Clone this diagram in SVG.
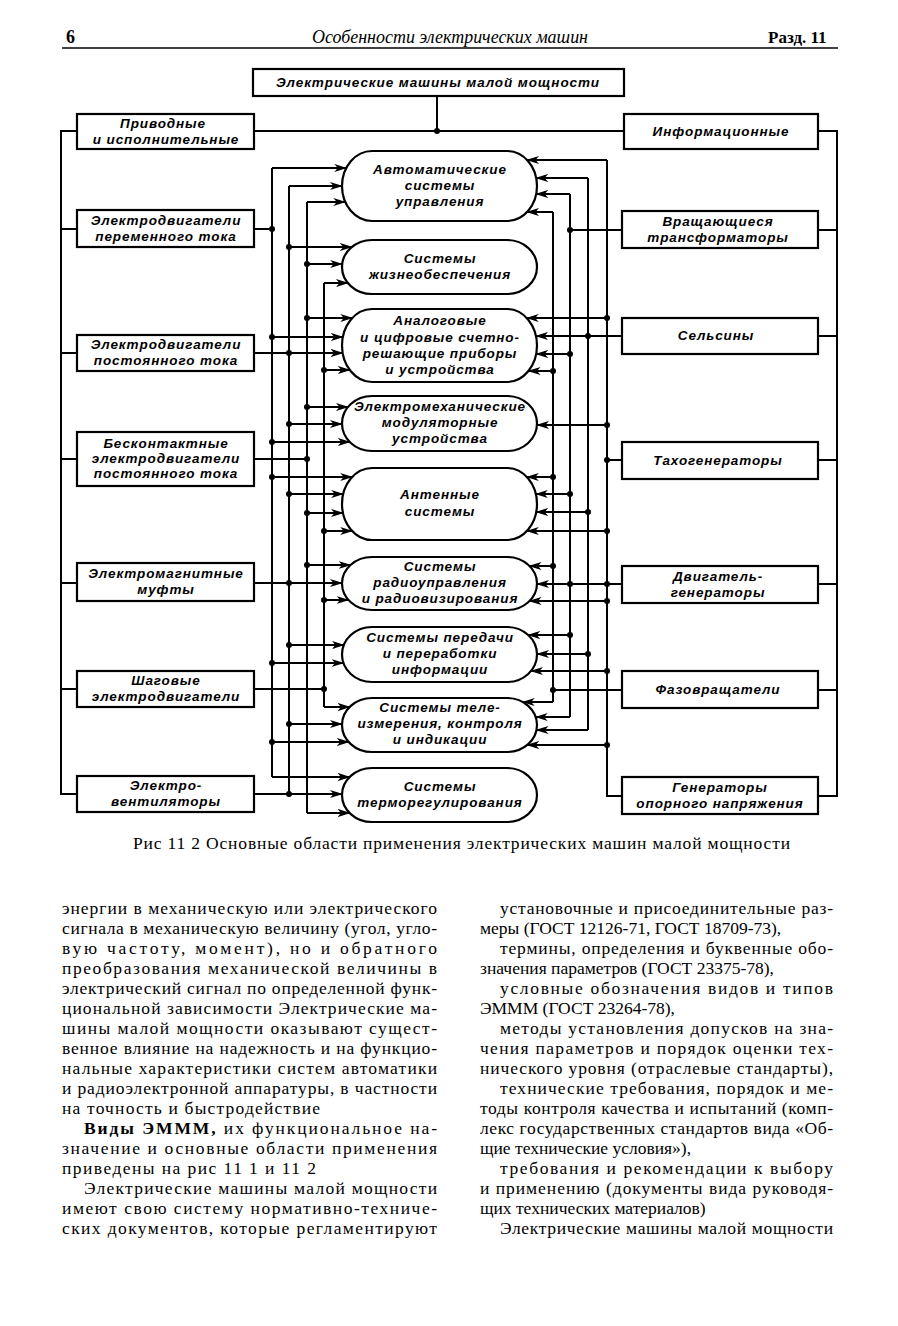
<svg xmlns="http://www.w3.org/2000/svg" width="898" height="1326" viewBox="0 0 898 1326">
<style>
.bx{fill:#fff;stroke:#000;stroke-width:2.2}
.ov{fill:#fff;stroke:#000;stroke-width:2.2}
.t{font-family:"Liberation Sans",Arial,sans-serif;font-style:italic;font-weight:bold;font-size:13.5px;letter-spacing:0.9px;text-anchor:middle;fill:#000}
.w{stroke:#000;stroke-width:2;fill:none}
.a{stroke:#000;stroke-width:2;marker-end:url(#ar)}
.body{font-family:"Liberation Serif","Times New Roman",serif;font-size:17.5px;fill:#000}
.hd{font-family:"Liberation Serif","Times New Roman",serif;fill:#000}
</style>
<defs>
<marker id="ar" markerWidth="13" markerHeight="9" refX="12" refY="4.5" orient="auto" markerUnits="userSpaceOnUse">
<path d="M0,0.5 L13,4.5 L0,8.5 L3.5,4.5 Z" fill="#000"/>
</marker>
</defs>
<rect width="898" height="1326" fill="#fff"/>

<!-- page header -->
<g id="header">
<text class="hd" x="66" y="43" font-size="18" font-weight="bold">6</text>
<text class="hd" x="312" y="43" font-size="18" font-style="italic" textLength="276" lengthAdjust="spacingAndGlyphs">Особенности электрических машин</text>
<text class="hd" x="768" y="43" font-size="17" font-weight="bold">Разд. 11</text>
<line x1="62" y1="48" x2="838" y2="48" stroke="#000" stroke-width="1.3"/>
</g>

<!-- connectors -->
<g id="connectors">
<path class="w" d="M437,96 V131 M254,131 H624"/>
<path class="w" d="M77,131 H61 V794 H77 M61,229 H77 M61,353 H77 M61,459 H77 M61,583 H77 M61,689 H77"/>
<path class="w" d="M818,131 H837 V796 H818 M837,230 H818 M837,336 H818 M837,460 H818 M837,584 H818 M837,690 H818"/>
<path class="w" d="M272,168 V777 M289,186 V794 M307,202 V813 M324,283 V707"/>
<path class="w" d="M254,229 H272 M254,459 H307 M254,689 H324"/>
<path class="w" d="M553,212 V702 M570,194 V717 M588,178 V730 M607,160 V796 H622"/>
<path class="w" d="M622,230 H570 M622,460 H607 M622,690 H553"/>
<!-- left arrows -->
<line class="a" x1="272" y1="168" x2="346.3" y2="168"/>
<line class="a" x1="289" y1="186" x2="342" y2="186"/>
<line class="a" x1="307" y1="202" x2="345.3" y2="202"/>
<line class="a" x1="289" y1="247" x2="351.8" y2="247"/>
<line class="a" x1="307" y1="264" x2="342.2" y2="264"/>
<line class="a" x1="324" y1="283" x2="347.9" y2="283"/>
<line class="a" x1="307" y1="318" x2="352.3" y2="318"/>
<line class="a" x1="272" y1="337" x2="342.8" y2="337"/>
<line class="a" x1="254" y1="353" x2="342.6" y2="353"/>
<line class="a" x1="324" y1="370" x2="349.8" y2="370"/>
<line class="a" x1="307" y1="407" x2="348" y2="407"/>
<line class="a" x1="289" y1="424" x2="342" y2="424"/>
<line class="a" x1="272" y1="442" x2="349.8" y2="442"/>
<line class="a" x1="272" y1="477" x2="352.2" y2="477"/>
<line class="a" x1="289" y1="494" x2="343.2" y2="494"/>
<line class="a" x1="307" y1="513" x2="343" y2="513"/>
<line class="a" x1="324" y1="531" x2="352.2" y2="531"/>
<line class="a" x1="307" y1="565" x2="350.5" y2="565"/>
<line class="a" x1="254" y1="583" x2="342" y2="583"/>
<line class="a" x1="324" y1="600" x2="348.5" y2="600"/>
<line class="a" x1="289" y1="645" x2="343.9" y2="645"/>
<line class="a" x1="272" y1="663" x2="343.5" y2="663"/>
<line class="a" x1="324" y1="707" x2="349.6" y2="707"/>
<line class="a" x1="289" y1="724" x2="342" y2="724"/>
<line class="a" x1="272" y1="742" x2="348.7" y2="742"/>
<line class="a" x1="272" y1="777" x2="349.6" y2="777"/>
<line class="a" x1="254" y1="794" x2="342" y2="794"/>
<line class="a" x1="307" y1="813" x2="349.6" y2="813"/>
<!-- right arrows -->
<line class="a" x1="607" y1="160" x2="527.1" y2="160"/>
<line class="a" x1="588" y1="178" x2="536.2" y2="178"/>
<line class="a" x1="570" y1="194" x2="536.2" y2="194"/>
<line class="a" x1="553" y1="212" x2="527.1" y2="212"/>
<line class="a" x1="607" y1="318" x2="526.7" y2="318"/>
<line class="a" x1="622" y1="336" x2="536" y2="336"/>
<line class="a" x1="570" y1="354" x2="536.2" y2="354"/>
<line class="a" x1="553" y1="371" x2="528.5" y2="371"/>
<line class="a" x1="607" y1="425" x2="537" y2="425"/>
<line class="a" x1="553" y1="477" x2="526.8" y2="477"/>
<line class="a" x1="570" y1="494" x2="535.8" y2="494"/>
<line class="a" x1="588" y1="512" x2="536.2" y2="512"/>
<line class="a" x1="607" y1="531" x2="526.8" y2="531"/>
<line class="a" x1="553" y1="566" x2="529.5" y2="566"/>
<line class="a" x1="622" y1="584" x2="537" y2="584"/>
<line class="a" x1="607" y1="601" x2="529.5" y2="601"/>
<line class="a" x1="570" y1="635" x2="528.2" y2="635"/>
<line class="a" x1="588" y1="654" x2="537" y2="654"/>
<line class="a" x1="607" y1="671" x2="531" y2="671"/>
<line class="a" x1="553" y1="702" x2="522.7" y2="702"/>
<line class="a" x1="570" y1="717" x2="535.7" y2="717"/>
<line class="a" x1="588" y1="730" x2="536.5" y2="730"/>
<line class="a" x1="607" y1="745" x2="527.2" y2="745"/>
<!-- junction dots -->
<g fill="#000">
<circle cx="437" cy="131" r="3"/>
<circle cx="272" cy="229" r="3"/><circle cx="289" cy="247" r="3"/><circle cx="307" cy="264" r="3"/>
<circle cx="307" cy="318" r="3"/><circle cx="272" cy="337" r="3"/><circle cx="289" cy="353" r="3"/><circle cx="324" cy="370" r="3"/>
<circle cx="307" cy="407" r="3"/><circle cx="289" cy="424" r="3"/><circle cx="272" cy="442" r="3"/><circle cx="307" cy="459" r="3"/>
<circle cx="272" cy="477" r="3"/><circle cx="289" cy="494" r="3"/><circle cx="307" cy="513" r="3"/><circle cx="324" cy="531" r="3"/>
<circle cx="307" cy="565" r="3"/><circle cx="289" cy="583" r="3"/><circle cx="324" cy="600" r="3"/>
<circle cx="289" cy="645" r="3"/><circle cx="272" cy="663" r="3"/><circle cx="324" cy="689" r="3"/>
<circle cx="289" cy="724" r="3"/><circle cx="272" cy="742" r="3"/><circle cx="289" cy="794" r="3"/>
<circle cx="570" cy="230" r="3"/><circle cx="607" cy="318" r="3"/><circle cx="588" cy="336" r="3"/><circle cx="570" cy="354" r="3"/><circle cx="553" cy="371" r="3"/>
<circle cx="607" cy="425" r="3"/><circle cx="607" cy="460" r="3"/>
<circle cx="553" cy="477" r="3"/><circle cx="570" cy="494" r="3"/><circle cx="588" cy="512" r="3"/><circle cx="607" cy="531" r="3"/>
<circle cx="553" cy="566" r="3"/><circle cx="607" cy="584" r="3"/><circle cx="570" cy="584" r="3"/><circle cx="607" cy="601" r="3"/>
<circle cx="570" cy="635" r="3"/><circle cx="588" cy="654" r="3"/><circle cx="607" cy="671" r="3"/><circle cx="553" cy="690" r="3"/>
<circle cx="607" cy="745" r="3"/>
</g>
</g>

<!-- top node -->
<g id="n-top"><rect class="bx" x="253" y="69" width="371" height="27"/><text class="t" x="438" y="87">Электрические машины малой мощности</text></g>

<!-- left boxes -->
<g id="n-drive"><rect class="bx" x="77" y="114" width="177" height="35"/><text class="t" x="163" y="128">Приводные</text><text class="t" x="166" y="144">и исполнительные</text></g>
<g id="n-ac"><rect class="bx" x="77" y="210" width="177" height="37"/><text class="t" x="166" y="225">Электродвигатели</text><text class="t" x="166" y="241">переменного тока</text></g>
<g id="n-dc"><rect class="bx" x="77" y="335" width="177" height="36"/><text class="t" x="166" y="349">Электродвигатели</text><text class="t" x="166" y="365">постоянного тока</text></g>
<g id="n-bldc"><rect class="bx" x="77" y="432" width="177" height="54"/><text class="t" x="166" y="448">Бесконтактные</text><text class="t" x="166" y="463">электродвигатели</text><text class="t" x="166" y="478">постоянного тока</text></g>
<g id="n-clutch"><rect class="bx" x="77" y="563" width="177" height="38"/><text class="t" x="166" y="578">Электромагнитные</text><text class="t" x="166" y="594">муфты</text></g>
<g id="n-step"><rect class="bx" x="77" y="671" width="177" height="36"/><text class="t" x="166" y="685">Шаговые</text><text class="t" x="166" y="701">электродвигатели</text></g>
<g id="n-fan"><rect class="bx" x="77" y="776" width="177" height="36"/><text class="t" x="166" y="790">Электро-</text><text class="t" x="166" y="806">вентиляторы</text></g>

<!-- right boxes -->
<g id="n-info"><rect class="bx" x="624" y="114" width="194" height="35"/><text class="t" x="721" y="136">Информационные</text></g>
<g id="n-rt"><rect class="bx" x="622" y="211" width="196" height="37"/><text class="t" x="718" y="226">Вращающиеся</text><text class="t" x="718" y="242">трансформаторы</text></g>
<g id="n-sel"><rect class="bx" x="622" y="318" width="196" height="36"/><text class="t" x="716" y="340">Сельсины</text></g>
<g id="n-tach"><rect class="bx" x="622" y="442" width="196" height="37"/><text class="t" x="718" y="465">Тахогенераторы</text></g>
<g id="n-mg"><rect class="bx" x="622" y="566" width="196" height="37"/><text class="t" x="718" y="581">Двигатель-</text><text class="t" x="718" y="597">генераторы</text></g>
<g id="n-ph"><rect class="bx" x="622" y="671" width="196" height="37"/><text class="t" x="718" y="694">Фазовращатели</text></g>
<g id="n-ref"><rect class="bx" x="622" y="777" width="196" height="37"/><text class="t" x="720" y="792">Генераторы</text><text class="t" x="720" y="808">опорного напряжения</text></g>

<!-- application ovals -->
<g id="o-acs"><rect class="ov" x="342" y="151" width="195" height="70" rx="30" ry="35"/><text class="t" x="440" y="174">Автоматические</text><text class="t" x="440" y="190">системы</text><text class="t" x="440" y="206">управления</text></g>
<g id="o-life"><rect class="ov" x="342" y="240" width="195" height="54" rx="30" ry="27"/><text class="t" x="440" y="263">Системы</text><text class="t" x="440" y="279">жизнеобеспечения</text></g>
<g id="o-comp"><rect class="ov" x="342" y="309" width="195" height="73" rx="30" ry="36.5"/><text class="t" x="440" y="325">Аналоговые</text><text class="t" x="440" y="341.5">и цифровые счетно-</text><text class="t" x="440" y="358">решающие приборы</text><text class="t" x="440" y="374">и устройства</text></g>
<g id="o-mod"><rect class="ov" x="342" y="396" width="195" height="55" rx="30" ry="27.5"/><text class="t" x="440" y="411">Электромеханические</text><text class="t" x="440" y="427">модуляторные</text><text class="t" x="440" y="443">устройства</text></g>
<g id="o-ant"><rect class="ov" x="342" y="468" width="195" height="72" rx="30" ry="36"/><text class="t" x="440" y="499">Антенные</text><text class="t" x="440" y="516">системы</text></g>
<g id="o-radio"><rect class="ov" x="342" y="557" width="195" height="53" rx="30" ry="26.5"/><text class="t" x="440" y="571">Системы</text><text class="t" x="440" y="587">радиоуправления</text><text class="t" x="440" y="603">и радиовизирования</text></g>
<g id="o-data"><rect class="ov" x="342" y="627" width="195" height="55" rx="30" ry="27.5"/><text class="t" x="440" y="642">Системы передачи</text><text class="t" x="440" y="658">и переработки</text><text class="t" x="440" y="674">информации</text></g>
<g id="o-tele"><rect class="ov" x="342" y="698" width="195" height="54" rx="30" ry="27"/><text class="t" x="440" y="712">Системы теле-</text><text class="t" x="440" y="728">измерения, контроля</text><text class="t" x="440" y="744">и индикации</text></g>
<g id="o-therm"><rect class="ov" x="342" y="768" width="195" height="54" rx="30" ry="27"/><text class="t" x="440" y="791">Системы</text><text class="t" x="440" y="807">терморегулирования</text></g>

<!-- caption -->
<text class="body" x="133" y="849" textLength="657" lengthAdjust="spacing">Рис  11 2  Основные области применения электрических машин малой мощности</text>

<!-- left column -->
<g id="col-left" class="body">
<text x="62" y="914" textLength="375" lengthAdjust="spacing">энергии в механическую или электрического</text>
<text x="62" y="934" textLength="375" lengthAdjust="spacing">сигнала в механическую величину (угол, угло-</text>
<text x="62" y="954" textLength="375" lengthAdjust="spacing">вую частоту, момент), но и обратного</text>
<text x="62" y="974" textLength="375" lengthAdjust="spacing">преобразования механической величины в</text>
<text x="62" y="994" textLength="375" lengthAdjust="spacing">электрический сигнал по определенной функ-</text>
<text x="62" y="1014" textLength="375" lengthAdjust="spacing">циональной зависимости  Электрические ма-</text>
<text x="62" y="1034" textLength="375" lengthAdjust="spacing">шины малой мощности оказывают сущест-</text>
<text x="62" y="1054" textLength="375" lengthAdjust="spacing">венное влияние на надежность и на функцио-</text>
<text x="62" y="1074" textLength="375" lengthAdjust="spacing">нальные характеристики систем автоматики</text>
<text x="62" y="1094" textLength="375" lengthAdjust="spacing">и радиоэлектронной аппаратуры, в частности</text>
<text x="62" y="1114" textLength="258" lengthAdjust="spacing">на точность и быстродействие</text>
<text x="84" y="1134" textLength="353" lengthAdjust="spacing"><tspan font-weight="bold">Виды ЭМММ,</tspan> их функциональное на-</text>
<text x="62" y="1154" textLength="375" lengthAdjust="spacing">значение и основные области применения</text>
<text x="62" y="1174" textLength="254" lengthAdjust="spacing">приведены на рис  11 1 и 11 2</text>
<text x="84" y="1194" textLength="353" lengthAdjust="spacing">Электрические машины малой мощности</text>
<text x="62" y="1214" textLength="375" lengthAdjust="spacing">имеют свою систему нормативно-техниче-</text>
<text x="62" y="1234" textLength="375" lengthAdjust="spacing">ских документов, которые регламентируют</text>
</g>

<!-- right column -->
<g id="col-right" class="body">
<text x="500" y="914" textLength="333" lengthAdjust="spacing">установочные и присоединительные раз-</text>
<text x="480" y="934">меры (ГОСТ 12126-71, ГОСТ 18709-73),</text>
<text x="500" y="954" textLength="333" lengthAdjust="spacing">термины, определения и буквенные обо-</text>
<text x="480" y="974">значения параметров (ГОСТ 23375-78),</text>
<text x="500" y="994" textLength="333" lengthAdjust="spacing">условные обозначения видов и типов</text>
<text x="480" y="1014">ЭМММ (ГОСТ 23264-78),</text>
<text x="500" y="1034" textLength="333" lengthAdjust="spacing">методы установления допусков на зна-</text>
<text x="480" y="1054" textLength="353" lengthAdjust="spacing">чения параметров и порядок оценки тех-</text>
<text x="480" y="1074" textLength="353" lengthAdjust="spacing">нического уровня (отраслевые стандарты),</text>
<text x="500" y="1094" textLength="333" lengthAdjust="spacing">технические требования, порядок и ме-</text>
<text x="480" y="1114" textLength="353" lengthAdjust="spacing">тоды контроля качества и испытаний (комп-</text>
<text x="480" y="1134" textLength="353" lengthAdjust="spacing">лекс государственных стандартов вида «Об-</text>
<text x="480" y="1154">щие технические условия»),</text>
<text x="500" y="1174" textLength="333" lengthAdjust="spacing">требования и рекомендации к выбору</text>
<text x="480" y="1194" textLength="353" lengthAdjust="spacing">и применению (документы вида руководя-</text>
<text x="480" y="1214">щих технических материалов)</text>
<text x="500" y="1234" textLength="333" lengthAdjust="spacing">Электрические машины малой мощности</text>
</g>
</svg>
